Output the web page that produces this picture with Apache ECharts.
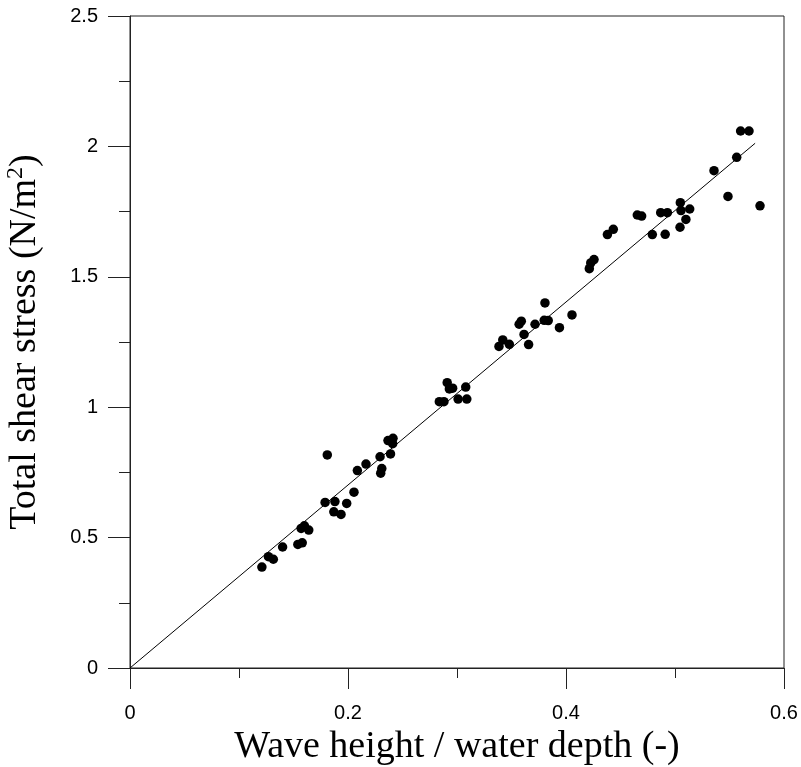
<!DOCTYPE html>
<html>
<head>
<meta charset="utf-8">
<script src="https://cdn.jsdelivr.net/npm/echarts@6/dist/echarts.min.js"></script>
<style>
html,body{margin:0;padding:0;background:#fff;}
#chart{width:801px;height:767px;}
</style>
</head>
<body>
<div id="chart"></div>
<script>
// Measured points: wave height / water depth (-) vs total shear stress (N/m2)
var ratioX = [0.121,0.127,0.1315,0.140,0.154,0.158,0.157,0.160,0.164,0.179,0.181,0.188,0.187,0.1936,0.1988,0.2055,0.2086,0.2165,0.2294,0.230,0.231,0.239,0.2367,0.2413,0.241,0.2838,0.288,0.291,0.293,0.296,0.308,0.301,0.309,0.3385,0.342,0.348,0.3615,0.3657,0.357,0.359,0.3716,0.3807,0.380,0.3837,0.394,0.4055,0.4214,0.4227,0.4257,0.438,0.4434,0.4654,0.4694,0.4792,0.4869,0.493,0.491,0.5046,0.510,0.5049,0.5055,0.5135,0.5358,0.5486,0.5566,0.5602,0.5679,0.578];
var stressY = [0.387,0.427,0.417,0.464,0.474,0.480,0.535,0.545,0.529,0.635,0.817,0.638,0.599,0.589,0.631,0.674,0.757,0.782,0.810,0.747,0.765,0.821,0.872,0.881,0.860,1.021,1.021,1.094,1.070,1.073,1.077,1.031,1.031,1.233,1.258,1.241,1.279,1.240,1.318,1.330,1.318,1.400,1.333,1.332,1.305,1.354,1.531,1.553,1.566,1.662,1.682,1.737,1.733,1.662,1.746,1.746,1.663,1.690,1.720,1.784,1.754,1.760,1.907,1.808,1.958,2.059,2.059,1.772];
// Fitted line end points
var fitX = [0, 0.5735];
var fitY = [0, 2.012];
var xTickLabels = ['0','0.2','0.4','0.6'];
var yTickLabels = ['0','0.5','1','1.5','2','2.5'];

var pts = ratioX.map(function(x,i){return [x, stressY[i]];});
var fit = fitX.map(function(x,i){return [x, fitY[i]];});
var axisColor = '#222';
var chart = echarts.init(document.getElementById('chart'), null, {renderer:'canvas'});
chart.setOption({
  animation:false,
  backgroundColor:'#fff',
  grid:{left:130,right:17,top:16,bottom:99,containLabel:false,outerBoundsMode:'none',
        show:true,borderColor:axisColor,borderWidth:1,backgroundColor:'transparent'},
  xAxis:{
    type:'value',min:0,max:0.6,interval:0.2,
    name:'Wave height / water depth (-)',nameLocation:'middle',nameGap:52,
    nameTextStyle:{fontFamily:'Liberation Serif',fontSize:38,color:'#000'},
    axisLine:{show:true,onZero:false,lineStyle:{color:axisColor,width:1}},
    axisTick:{show:true,inside:false,length:21,lineStyle:{color:axisColor,width:1}},
    minorTick:{show:true,splitNumber:2,length:10,lineStyle:{color:axisColor,width:1}},
    splitLine:{show:false},minorSplitLine:{show:false},
    axisLabel:{margin:35,fontFamily:'Liberation Sans',fontSize:20,color:'#000',
      formatter:function(v){var i=Math.round(v/0.2);return xTickLabels[i]!==undefined?xTickLabels[i]:'';}}
  },
  yAxis:{
    type:'value',min:0,max:2.5,interval:0.5,
    name:'{a|Total shear stress (N/m}{s|2}{a|)}',nameLocation:'middle',nameGap:84,nameRotate:90,
    nameTextStyle:{rich:{
      a:{fontFamily:'Liberation Serif',fontSize:38,color:'#000'},
      s:{fontFamily:'Liberation Serif',fontSize:24,color:'#000',padding:[0,0,18,0]}
    }},
    axisLine:{show:true,onZero:false,lineStyle:{color:axisColor,width:1}},
    axisTick:{show:true,inside:false,length:22,lineStyle:{color:axisColor,width:1}},
    minorTick:{show:true,splitNumber:2,length:11,lineStyle:{color:axisColor,width:1}},
    splitLine:{show:false},minorSplitLine:{show:false},
    axisLabel:{margin:32,fontFamily:'Liberation Sans',fontSize:20,color:'#000',
      formatter:function(v){var i=Math.round(v/0.5);return yTickLabels[i]!==undefined?yTickLabels[i]:'';}}
  },
  series:[
    {type:'line',data:fit,symbol:'none',lineStyle:{color:'#000',width:1},silent:true,z:1},
    {type:'scatter',data:pts,symbol:'circle',symbolSize:9.5,itemStyle:{color:'#000',opacity:1},z:2}
  ]
});
</script>
</body>
</html>
